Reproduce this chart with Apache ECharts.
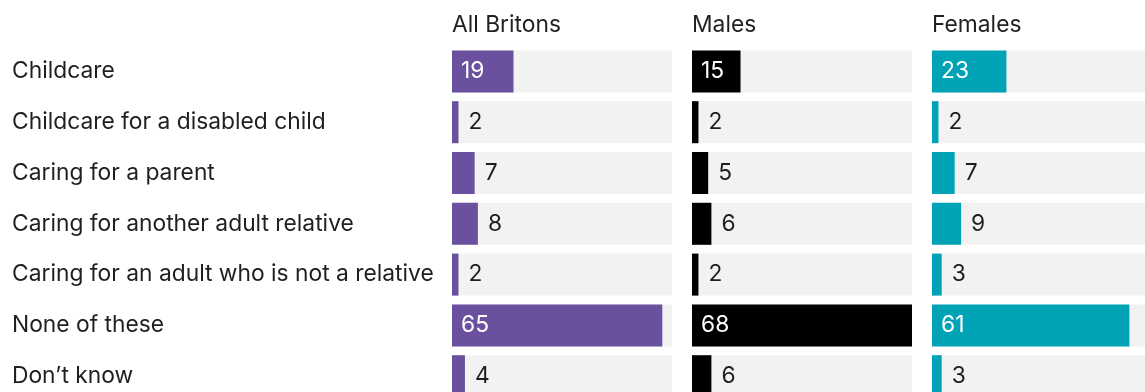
<!DOCTYPE html>
<html>
<head>
<meta charset="utf-8">
<script src="https://cdn.jsdelivr.net/npm/echarts@6/dist/echarts.min.js"></script>
<style>
html,body{margin:0;padding:0;background:#fff;}
#chart{width:1145px;height:392px;}
</style>
</head>
<body>
<div id="chart"></div>
<script>
const categories = [
  "Childcare",
  "Childcare for a disabled child",
  "Caring for a parent",
  "Caring for another adult relative",
  "Caring for an adult who is not a relative",
  "None of these",
  "Don\u2019t know"
];
const panelTitles = ["All Britons", "Males", "Females"];
const allBritons = [19, 2, 7, 8, 2, 65, 4];
const males = [15, 2, 5, 6, 2, 68, 6];
const females = [23, 2, 7, 9, 3, 61, 3];

const panelData = [allBritons, males, females];
const colors = ["#6a509e", "#000000", "#00a3b5"];
const lefts = [452, 692, 932];
const FONT = "Inter, Roboto, sans-serif";
const FS = 22.8;
const TEXT = "#1f1f1f";
const maxVal = 68;

const chart = echarts.init(document.getElementById('chart'), null, {renderer: 'canvas'});

const grids = [], xAxes = [], yAxes = [], series = [], titles = [];
panelData.forEach((vals, i) => {
  grids.push({left: lefts[i], top: 46, width: 220, height: 355.6, containLabel: false, outerBoundsMode: 'none'});
  xAxes.push({type: 'value', gridIndex: i, min: 0, max: maxVal, show: false});
  yAxes.push({
    type: 'category', gridIndex: i, data: categories, inverse: true,
    axisLine: {show: false}, axisTick: {show: false}, splitLine: {show: false},
    axisLabel: i === 0 ? {
      show: true, align: 'left', margin: 440, fontSize: FS,
      fontFamily: FONT, color: TEXT, padding: [2, 0, 0, 0]
    } : {show: false}
  });
  titles.push({
    text: panelTitles[i], left: lefts[i], top: 14, padding: 0,
    textStyle: {fontSize: FS, fontWeight: 'normal', fontFamily: FONT, color: TEXT}
  });
  series.push({
    type: 'bar', xAxisIndex: i, yAxisIndex: i, barWidth: 42,
    showBackground: true, backgroundStyle: {color: '#f2f2f2'},
    itemStyle: {color: colors[i]},
    animation: false,
    data: vals.map(v => ({
      value: v,
      label: v >= 15 ? {
        show: true, position: 'insideLeft', distance: 9, color: '#ffffff',
        fontSize: FS, fontFamily: FONT
      } : {
        show: true, position: 'right', distance: 10, color: TEXT,
        fontSize: FS, fontFamily: FONT
      }
    }))
  });
});

chart.setOption({
  backgroundColor: '#ffffff',
  animation: false,
  title: titles,
  grid: grids,
  xAxis: xAxes,
  yAxis: yAxes,
  series: series
});
</script>
</body>
</html>
